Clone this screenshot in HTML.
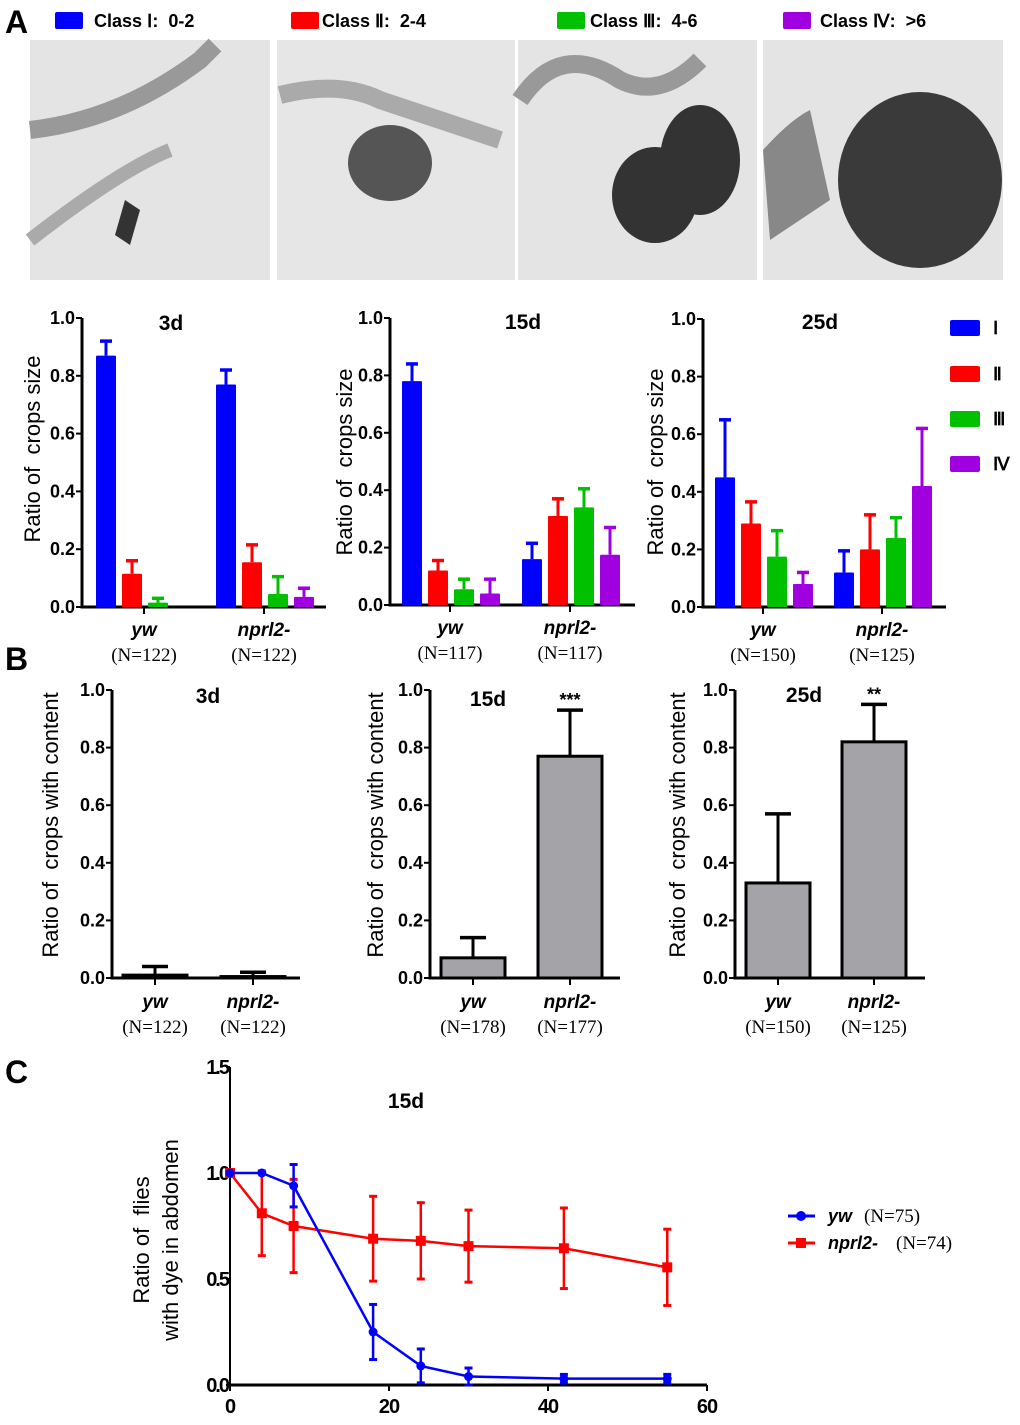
<!DOCTYPE html>
<html><head><meta charset="utf-8"><style>
body{margin:0;background:#fff;}
svg{display:block;font-family:"Liberation Sans",Arial,sans-serif;}
text{white-space:pre;}
.tk{font-size:18px;font-weight:bold;}
.ttl{font-size:21px;font-weight:bold;}
.ser{font-family:"Liberation Serif",serif;font-size:19px;}
.ctk{font-size:20px !important;font-weight:bold;}
</style></head><body>
<svg id="fig" width="1020" height="1425" viewBox="0 0 1020 1425" xmlns="http://www.w3.org/2000/svg">
<text x="5" y="33" font-size="32" font-weight="bold">A</text>
<text x="5" y="670" font-size="32" font-weight="bold">B</text>
<text x="5" y="1083" font-size="32" font-weight="bold">C</text>
<g font-size="18" font-weight="bold">
<rect x="55" y="12" width="28" height="17" fill="#0000ff" rx="2"/><text x="94" y="27">Class Ⅰ:  0-2</text>
<rect x="291" y="12" width="28" height="17" fill="#ff0000" rx="2"/><text x="322" y="27">Class Ⅱ:  2-4</text>
<rect x="557" y="12" width="28" height="17" fill="#00c000" rx="2"/><text x="590" y="27">Class Ⅲ:  4-6</text>
<rect x="783" y="12" width="28" height="17" fill="#a000e0" rx="2"/><text x="820" y="27">Class Ⅳ:  &gt;6</text>
</g>
<g>
<rect x="30" y="40" width="240" height="240" fill="#e4e4e4"/>
<path d="M30 130 Q120 120 200 60 L215 45" stroke="#999" stroke-width="18" fill="none"/>
<path d="M30 240 Q120 170 170 150" stroke="#aaa" stroke-width="14" fill="none"/>
<path d="M125 200 L115 235 L130 245 L140 210 Z" fill="#333"/>
<rect x="277" y="40" width="238" height="240" fill="#e6e6e6"/>
<path d="M280 95 Q340 80 380 100 Q440 120 500 140" stroke="#aaa" stroke-width="18" fill="none"/>
<ellipse cx="390" cy="163" rx="42" ry="38" fill="#555"/>
<rect x="518" y="40" width="239" height="240" fill="#e4e4e4"/>
<path d="M520 100 Q560 40 620 80 Q660 100 700 60" stroke="#999" stroke-width="18" fill="none"/>
<ellipse cx="655" cy="195" rx="43" ry="48" fill="#333"/>
<ellipse cx="700" cy="160" rx="40" ry="55" fill="#333"/>
<rect x="763" y="40" width="240" height="240" fill="#e4e4e4"/>
<path d="M763 150 Q790 120 810 110 L830 200 L770 240 Z" fill="#888"/>
<ellipse cx="920" cy="180" rx="82" ry="88" fill="#3a3a3a"/>
</g>
<g font-size="18" font-weight="bold">
<rect x="950" y="320" width="30" height="16" fill="#0000ff" rx="2"/><text x="993" y="334">Ⅰ</text>
<rect x="950" y="366" width="30" height="16" fill="#ff0000" rx="2"/><text x="993" y="380">Ⅱ</text>
<rect x="950" y="411" width="30" height="16" fill="#00c000" rx="2"/><text x="993" y="425">Ⅲ</text>
<rect x="950" y="456" width="30" height="16" fill="#a000e0" rx="2"/><text x="993" y="470">Ⅳ</text>
</g>
</svg>
<script>
const NS="http://www.w3.org/2000/svg";
const fig=document.getElementById('fig');
function mk(tag,at,parent,txt){const e=document.createElementNS(NS,tag);for(const k in at)e.setAttribute(k,at[k]);if(txt!==undefined)e.textContent=txt;(parent||fig).appendChild(e);return e;}

// Panel A data
const classColors=["#0000ff","#ff0000","#00c000","#a000e0"];
const aTitles=["3d","15d","25d"];
const aGroups=["yw","nprl2-"];
const aN=[["(N=122)","(N=122)"],["(N=117)","(N=117)"],["(N=150)","(N=125)"]];
const a3dYw=[0.87,0.115,0.015,0];const a3dYwErr=[0.05,0.045,0.015,0];
const a3dNp=[0.77,0.155,0.045,0.035];const a3dNpErr=[0.05,0.06,0.06,0.03];
const a15Yw=[0.78,0.12,0.055,0.04];const a15YwErr=[0.06,0.035,0.035,0.05];
const a15Np=[0.16,0.31,0.34,0.175];const a15NpErr=[0.055,0.06,0.065,0.095];
const a25Yw=[0.45,0.29,0.175,0.08];const a25YwErr=[0.2,0.075,0.09,0.04];
const a25Np=[0.12,0.2,0.24,0.42];const a25NpErr=[0.075,0.12,0.07,0.2];
const yTicks=["0.0","0.2","0.4","0.6","0.8","1.0"];

// Panel B data
const bGroups=["yw","nprl2-"];
const bN=[["(N=122)","(N=122)"],["(N=178)","(N=177)"],["(N=150)","(N=125)"]];
const b3d=[0.01,0.005];const b3dErr=[0.03,0.015];
const b15=[0.07,0.77];const b15Err=[0.07,0.16];
const b25=[0.33,0.82];const b25Err=[0.24,0.13];
const bStars=[["",""],["","***"],["","**"]];

// Panel C data
const cX=[0,4,8,18,24,30,42,55];
const cYw=[1,1,0.94,0.25,0.09,0.04,0.03,0.03];
const cYwErr=[0,0,0.1,0.13,0.08,0.04,0.02,0.02];
const cNp=[1,0.81,0.75,0.69,0.68,0.655,0.645,0.555];
const cNpErr=[0,0.2,0.22,0.2,0.18,0.17,0.19,0.18];
const cXTicks=[0,20,40,60];
const cYTicks=["0.0","0.5","1.0","1.5"];

function axesY(g,ax,y0,y1,xEnd,title,tx,ty,label,lx,ly){
  const sc=v=>y0-(y0-y1)*v;
  mk('line',{x1:ax,y1:y1,x2:ax,y2:y0+1,stroke:'#000','stroke-width':3},g);
  mk('line',{x1:ax-1.5,y1:y0,x2:xEnd,y2:y0,stroke:'#000','stroke-width':3},g);
  yTicks.forEach(t=>{const y=sc(+t);mk('line',{x1:ax-6,y1:y,x2:ax,y2:y,stroke:'#000','stroke-width':2},g);
    const e=mk('text',{x:ax-7,y:y+6,'text-anchor':'end',class:'tk'},g,t);
    
    });
  const tt=mk('text',{x:tx,y:ty,'text-anchor':'middle',class:'ttl'},g,title);
  
  
  const yl=mk('text',{x:0,y:0,'text-anchor':'middle','font-size':22,transform:`translate(${lx},${ly}) rotate(-90)`},g,label);
  
  
  return sc;
}
function errBar(g,cx,yTop,yErr,color,w){
  mk('line',{x1:cx,y1:yTop,x2:cx,y2:yErr,stroke:color,'stroke-width':3},g);
  mk('line',{x1:cx-w/2,y1:yErr,x2:cx+w/2,y2:yErr,stroke:color,'stroke-width':3.5},g);
}
function groupLabels(g,cx,y,name,n){
  const a=mk('text',{x:cx,y:y,'text-anchor':'middle','font-size':19,'font-weight':'bold','font-style':'italic'},g,name);
  
  
  const b=mk('text',{x:cx,y:y+25,'text-anchor':'middle',class:'ser'},g,n);
  
  
}

// Panel A charts
const aCfg=[
 {ax:82,y0:607,y1:318,xEnd:326,tx:171,ty:330,lx:40,ly:449,s:[96,216],vals:[a3dYw,a3dNp],errs:[a3dYwErr,a3dNpErr]},
 {ax:390,y0:605,y1:318,xEnd:635,tx:523,ty:329,lx:352,ly:462,s:[402,522],vals:[a15Yw,a15Np],errs:[a15YwErr,a15NpErr]},
 {ax:703,y0:607,y1:319,xEnd:946,tx:820,ty:329,lx:663,ly:462,s:[715,834],vals:[a25Yw,a25Np],errs:[a25YwErr,a25NpErr]}];
aCfg.forEach((c,i)=>{
  const g=mk('g',{});
  
  
  const sc=axesY(g,c.ax,c.y0,c.y1,c.xEnd,aTitles[i],c.tx,c.ty,'Ratio of  crops size',c.lx,c.ly);
  for(let gi=0;gi<2;gi++){
    const vals=c.vals[gi],errs=c.errs[gi];
    vals.forEach((v,k)=>{
      if(v<=0)return;
      const x=c.s[gi]+k*26;
      if(errs[k]>0)errBar(g,x+10,sc(v),sc(v+errs[k]),classColors[k],12);
      const r=mk('rect',{x:x,y:sc(v),width:20,height:c.y0-sc(v),fill:classColors[k],rx:1},g);
      
      
    });
    const tc=c.s[gi]+48;
    mk('line',{x1:tc,y1:c.y0,x2:tc,y2:c.y0+7,stroke:'#000','stroke-width':2},g);
    groupLabels(g,tc,c.y0+29,aGroups[gi],aN[i][gi]);
  }
});

// Panel B charts
const bCfg=[
 {ax:112,y0:978,y1:690,xEnd:300,tx:208,ty:703,lx:58,ly:825,c:[155,253],vals:b3d,errs:b3dErr,t:"3d"},
 {ax:430,y0:978,y1:690,xEnd:620,tx:488,ty:706,lx:383,ly:825,c:[473,570],vals:b15,errs:b15Err,t:"15d"},
 {ax:735,y0:978,y1:690,xEnd:925,tx:804,ty:702,lx:685,ly:825,c:[778,874],vals:b25,errs:b25Err,t:"25d"}];
bCfg.forEach((c,i)=>{
  const g=mk('g',{});
  
  
  const sc=axesY(g,c.ax,c.y0,c.y1,c.xEnd,c.t,c.tx,c.ty,'Ratio of  crops with content',c.lx,c.ly);
  c.vals.forEach((v,k)=>{
    const cx=c.c[k];
    errBar(g,cx,sc(v),sc(v+c.errs[k]),'#000',26);
    const r=mk('rect',{x:cx-32,y:sc(v),width:64,height:c.y0-sc(v),fill:'#a4a4a8',stroke:'#000','stroke-width':3},g);
    
    
    if(bStars[i][k]){const s=mk('text',{x:cx,y:sc(v+c.errs[k])-4,'text-anchor':'middle','font-size':18,'font-weight':'bold'},g,bStars[i][k]);
      
      }
    mk('line',{x1:cx,y1:c.y0,x2:cx,y2:c.y0+7,stroke:'#000','stroke-width':2},g);
    groupLabels(g,cx,c.y0+30,bGroups[k],bN[i][k]);
  });
});

// Panel C
(function(){
  const g=mk('g',{});
  
  
  const ax=230,x60=707,y0=1385,y15=1067;
  const sx=v=>ax+(x60-ax)*v/60, sy=v=>y0-(y0-y15)*v/1.5;
  mk('line',{x1:ax,y1:y15,x2:ax,y2:y0,stroke:'#000','stroke-width':2},g);
  mk('line',{x1:ax,y1:y0,x2:x60,y2:y0,stroke:'#000','stroke-width':3},g);
  cYTicks.forEach(t=>{const y=sy(+t);mk('line',{x1:ax-4,y1:y,x2:ax,y2:y,stroke:'#000','stroke-width':2},g);
    const e=mk('text',{x:ax-2,y:y+7,'text-anchor':'end',class:'ctk',style:'font-size:20px;letter-spacing:-2px'},g,t);
    
    });
  cXTicks.forEach(t=>{const x=sx(t);mk('line',{x1:x,y1:y0,x2:x,y2:y0+6,stroke:'#000','stroke-width':2},g);
    const e=mk('text',{x:x,y:y0+28,'text-anchor':'middle',class:'ctk',style:'font-size:20px;letter-spacing:-1px'},g,t);
    
    });
  const tt=mk('text',{x:406,y:1108,'text-anchor':'middle','font-size':21,'font-weight':'bold'},g,'15d');
  
  
  const yl=mk('text',{'text-anchor':'middle','font-size':22,transform:'translate(149,1240) rotate(-90)'},g,'Ratio of  flies');
  
  
  const yl2=mk('text',{'text-anchor':'middle','font-size':22,transform:'translate(178,1240) rotate(-90)'},g,'with dye in abdomen');
  
  
  function series(vals,errs,color,name,square){
    const sg=mk('g',{},g);
    
    
    cX.forEach((x,i)=>{if(errs[i]>0){const cx=sx(x);
      mk('line',{x1:cx,y1:sy(vals[i]-errs[i]),x2:cx,y2:sy(vals[i]+errs[i]),stroke:color,'stroke-width':2.5},sg);
      [vals[i]-errs[i],vals[i]+errs[i]].forEach(v=>{if(v>=0)mk('line',{x1:cx-4,y1:sy(v),x2:cx+4,y2:sy(v),stroke:color,'stroke-width':3},sg);});}});
    mk('polyline',{points:cX.map((x,i)=>sx(x)+','+sy(vals[i])).join(' '),fill:'none',stroke:color,'stroke-width':2.5},sg);
    cX.forEach((x,i)=>{const p=square?mk('rect',{x:sx(x)-5,y:sy(vals[i])-5,width:10,height:10,fill:color},sg):mk('circle',{cx:sx(x),cy:sy(vals[i]),r:4.5,fill:color},sg);
      
      });
  }
  series(cNp,cNpErr,'#ff0000','nprl2',true);
  series(cYw,cYwErr,'#0000ff','yw',false);
  const lg=mk('g',{},g);
  
  
  mk('line',{x1:788,y1:1216,x2:815,y2:1216,stroke:'#0000ff','stroke-width':3},lg);
  mk('circle',{cx:801,cy:1216,r:5,fill:'#0000ff'},lg);
  mk('text',{x:828,y:1222,'font-size':18,'font-weight':'bold','font-style':'italic'},lg,'yw');
  mk('text',{x:864,y:1222,class:'ser'},lg,'(N=75)');
  mk('line',{x1:788,y1:1243,x2:815,y2:1243,stroke:'#ff0000','stroke-width':3},lg);
  mk('rect',{x:796,y:1238,width:10,height:10,fill:'#ff0000'},lg);
  mk('text',{x:828,y:1249,'font-size':18,'font-weight':'bold','font-style':'italic'},lg,'nprl2-');
  mk('text',{x:896,y:1249,class:'ser'},lg,'(N=74)');
})();
</script>
</body></html>
